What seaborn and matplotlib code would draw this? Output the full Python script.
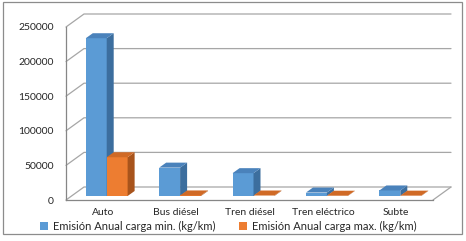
import pandas as pd
import matplotlib.pyplot as plt
import seaborn as sns
from matplotlib.patches import Polygon, Rectangle
from matplotlib.transforms import ScaledTranslation

# Data
medios = ['Auto', 'Bus diésel', 'Tren diésel', 'Tren eléctrico', 'Subte']
carga_min = [228000, 41000, 33000, 5000, 8000]
carga_max = [56000, 800, 700, 400, 500]
series = ['Emisión Anual carga min. (kg/km)', 'Emisión Anual carga max. (kg/km)']
yticks = [0, 50000, 100000, 150000, 200000, 250000]

df = pd.DataFrame({
    'Medio': medios * 2,
    'Emision': carga_min + carga_max,
    'Serie': [series[0]] * len(medios) + [series[1]] * len(medios),
})

front_cols = ['#5B9BD5', '#ED7D31']
side_cols = ['#3C6E9E', '#A8541C']
top_cols = ['#4A82BB', '#D06A26']

sns.set_style('white')
plt.rcParams['font.family'] = ['Lato', 'DejaVu Sans']

W, H = 466, 241
fig = plt.figure(figsize=(W / 100, H / 100), dpi=100)
ax_l, ax_b, ax_w, ax_h = 66, 41, 367, 173
ax = fig.add_axes([ax_l / W, ax_b / H, ax_w / W, ax_h / H])

sns.barplot(data=df, x='Medio', y='Emision', hue='Serie', palette=front_cols,
            width=0.57, saturation=1, linewidth=0, legend=False, ax=ax)

ax.set_xlim(-0.5, len(medios) - 0.5)
ax.set_ylim(0, 250000)
ax.set_yticks(yticks)
ax.set_yticklabels([str(t) for t in yticks])
ax.set_xlabel('')
ax.set_ylabel('')

# pixel -> data conversion
ppx = ax_w / (len(medios))
ppy = ax_h / 250000.0

# back wall and floor (3D look)
grid_c = '#A6A6A6'
wdx, wdy = 18 / ppx, 13 / ppy
x0, x1 = -0.5, len(medios) - 0.5
for t in yticks:
    ax.plot([x0, x0 + wdx, x1 + wdx], [t, t + wdy, t + wdy], color=grid_c, lw=0.9,
            clip_on=False, zorder=1)
ax.plot([x1, x1 + wdx], [0, wdy], color=grid_c, lw=0.9, clip_on=False, zorder=1)

# bars: shift front face into the depth and add side / top faces
shift = ScaledTranslation(4 / 100, 4 / 100, fig.dpi_scale_trans)
bdx, bdy = 7 / ppx, 5 / ppy
for i, cont in enumerate(ax.containers):
    z = 3 + i  # second series sits in front of the first one's side face
    for bar in cont:
        bar.set_transform(ax.transData + shift)
        bar.set_clip_on(False)
        bar.set_zorder(z)
        bx, bw, bh = bar.get_x(), bar.get_width(), bar.get_height()
        side = Polygon([(bx + bw, 0), (bx + bw + bdx, bdy), (bx + bw + bdx, bh + bdy), (bx + bw, bh)],
                       closed=True, facecolor=side_cols[i], edgecolor='none',
                       transform=ax.transData + shift, clip_on=False, zorder=z)
        top = Polygon([(bx, bh), (bx + bdx, bh + bdy), (bx + bw + bdx, bh + bdy), (bx + bw, bh)],
                      closed=True, facecolor=top_cols[i], edgecolor='none',
                      transform=ax.transData + shift, clip_on=False, zorder=z)
        ax.add_patch(side)
        ax.add_patch(top)

# axes styling
for s in ['top', 'right']:
    ax.spines[s].set_visible(False)
for s in ['left', 'bottom']:
    ax.spines[s].set_color('#868686')
    ax.spines[s].set_linewidth(0.9)
ax.set_xticks([i - 0.5 for i in range(len(medios) + 1)], minor=True)
ax.tick_params(axis='x', which='major', length=0, pad=6, labelsize=7.5, labelcolor='#262626')
ax.tick_params(axis='x', which='minor', length=3, width=0.9, color='#868686', direction='out')
ax.tick_params(axis='y', length=3, width=0.9, color='#868686', direction='out', pad=6,
               labelsize=7.5, labelcolor='#262626')
ax.grid(False)

# legend under the chart
handles = [Rectangle((0, 0), 1, 1, facecolor=c, edgecolor='none') for c in front_cols]
fig.legend(handles, series, loc='center', bbox_to_anchor=(0.49, 0.060), ncol=2, frameon=False,
           fontsize=8.0, handlelength=0.7, handleheight=0.7, handletextpad=0.45,
           columnspacing=2.2, borderaxespad=0, borderpad=0)

# outer frame
fig.patches.append(Rectangle((2.5 / W, 7 / H), 459.5 / W, 232 / H, transform=fig.transFigure,
                             fill=False, edgecolor='#8C8C8C', lw=0.9))

fig.savefig('out.png', dpi=100)
